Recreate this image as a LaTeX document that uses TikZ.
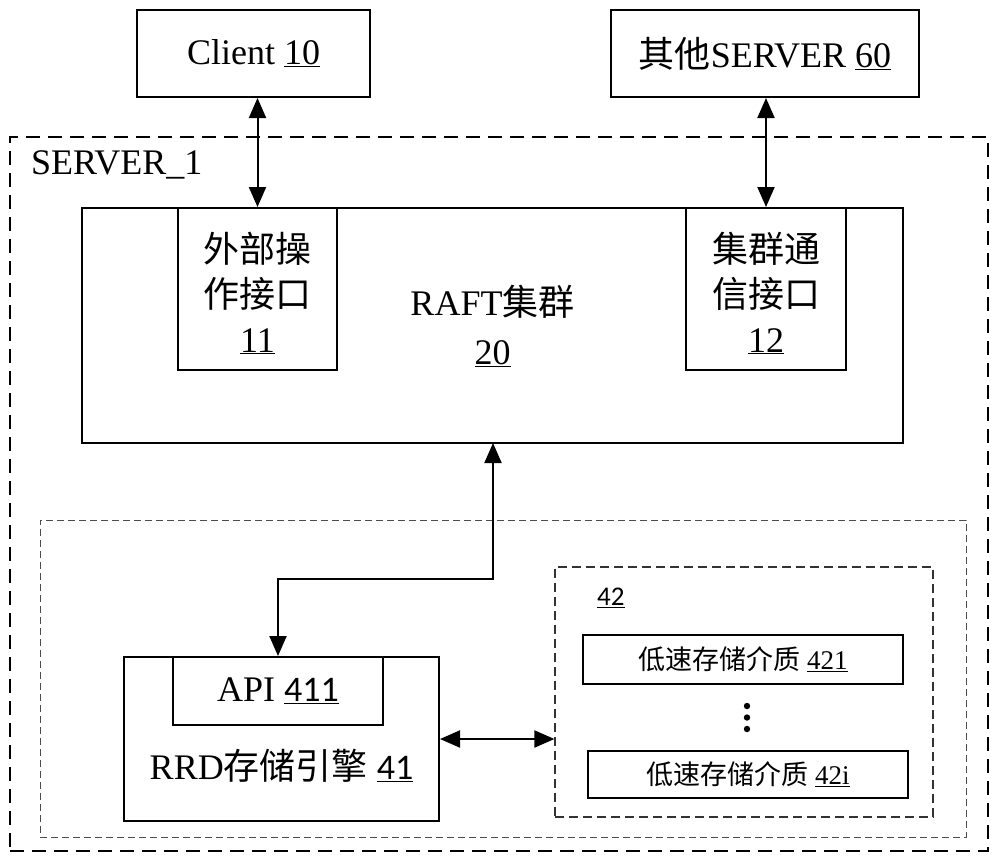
\documentclass[tikz,border=0pt]{standalone}
\usepackage{fontspec}
\setmainfont{Liberation Serif}
\newfontfamily\cjk{Noto Sans CJK SC}
\newfontfamily\calf{Carlito}
\usetikzlibrary{arrows.meta}
\tikzset{
  box/.style={draw, line width=2pt, rectangle, inner sep=0pt},
  bigtxt/.style={font=\fontsize{36}{45}\selectfont, align=center, inner sep=0pt},
  smalltxt/.style={font=\fontsize{27}{32}\selectfont, inner sep=0pt},
  outerdash/.style={draw, line width=2pt, dash pattern=on 14pt off 8pt},
  innerdash/.style={draw=black!70, line width=1pt, dash pattern=on 7pt off 4pt},
  storedash/.style={draw=black!80, line width=1.2pt, dash pattern=on 9pt off 5pt},
  arr/.style={line width=2pt, {Triangle[length=20pt,width=17pt]}-{Triangle[length=20pt,width=17pt]}},
}
\begin{document}
\begin{tikzpicture}[x=1pt,y=-1pt]
\useasboundingbox (0,0) rectangle (1000,863);
% outer and inner dashed frames
\node[outerdash, minimum width=978pt, minimum height=714pt, inner sep=0pt] (server1) at (499,494) {};
\node[bigtxt, anchor=west] (server1lbl) at (31,165) {SERVER\_1};
\node[innerdash, minimum width=926pt, minimum height=317pt, inner sep=0pt] (inner) at (503,678.5) {};
% top boxes
\node[box, minimum width=233pt, minimum height=87pt, bigtxt] (client) at (253.5,53.5) {Client \underline{10}};
\node[box, minimum width=308pt, minimum height=87pt, bigtxt] (other) at (765,53.5) {{\cjk 其他}SERVER \underline{60}};
% raft cluster
\node[box, minimum width=821pt, minimum height=235pt, font=\fontsize{36}{49}\selectfont, align=center] (raft) at (492.5,325.5) {RAFT{\cjk 集群}\\\underline{20}};
\node[box, minimum width=159pt, minimum height=162pt] (if11) at (257.5,289) {};
\node[bigtxt] (if11t) at (257.5,293) {{\cjk 外部操}\\{\cjk 作接口}\\\underline{11}};
\node[box, minimum width=160pt, minimum height=162pt] (if12) at (766,289) {};
\node[bigtxt] (if12t) at (766,293) {{\cjk 集群通}\\{\cjk 信接口}\\\underline{12}};
% RRD engine
\node[box, minimum width=315pt, minimum height=164pt] (rrd) at (281.5,739) {};
\node[box, minimum width=210pt, minimum height=68pt, bigtxt] (api) at (278,691) {API {\calf\underline{411}}};
\node[bigtxt] (rrdt) at (281.5,766) {RRD{\cjk 存储引擎} {\calf\underline{41}}};
% storage group
\node[storedash, minimum width=378pt, minimum height=250pt, inner sep=0pt] (store) at (744,692) {};
\node[anchor=west, inner sep=0pt, font=\fontsize{27}{32}\selectfont\calf] (lbl42) at (597,598) {\underline{42}};
\node[box, minimum width=320pt, minimum height=49pt, smalltxt] (s421) at (743,659.5) {{\cjk 低速存储介质} \underline{421}};
\node[box, minimum width=320pt, minimum height=47pt, smalltxt] (s42i) at (748,774.5) {{\cjk 低速存储介质} \underline{42i}};
\fill (747,706) circle (3.2pt) (747,717.5) circle (3.2pt) (747,729) circle (3.2pt);
% connectors
\draw[arr] (if11.north |- client.south) -- (if11.north);
\draw[arr] (if12.north |- other.south) -- (if12.north);
\coordinate (bend1) at (493,579);
\coordinate (raftb) at (493,443);
\draw[arr] (raftb) -- (bend1) -| (api.north);
\draw[arr] (rrd.east) -- (rrd.east -| store.west);
\end{tikzpicture}
\end{document}
